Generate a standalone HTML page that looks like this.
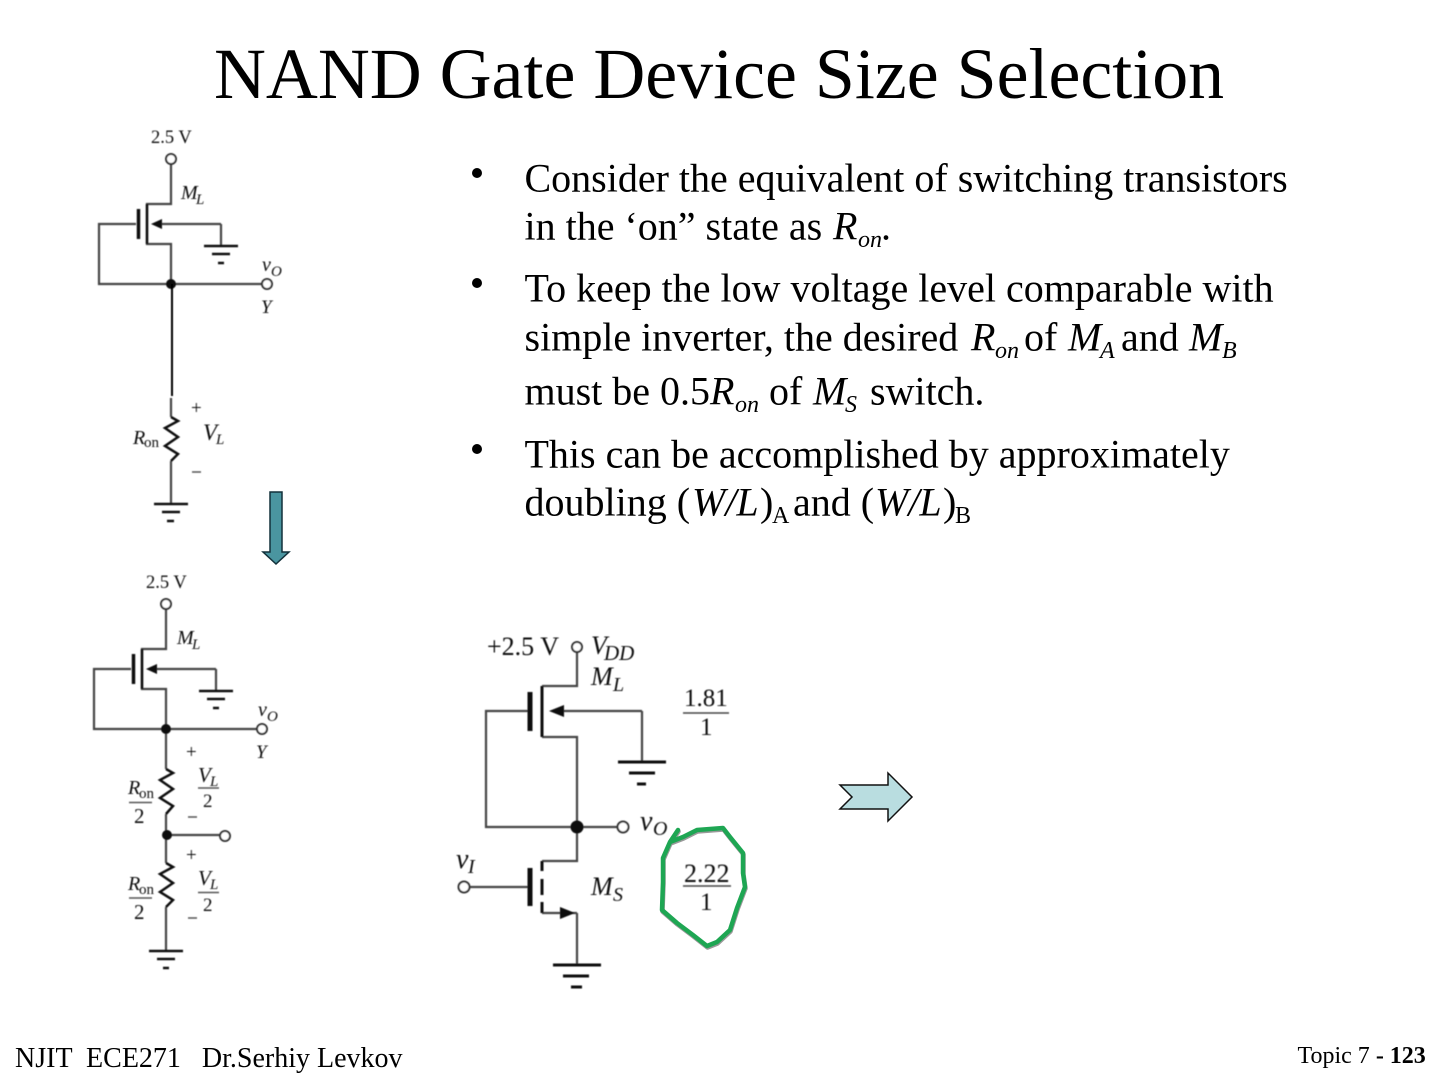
<!DOCTYPE html>
<html><head><meta charset="utf-8"><style>
html,body{margin:0;padding:0;background:#fff}
svg{display:block}
text{font-family:"Liberation Serif",serif;white-space:pre}
.b{font-size:40px;fill:#000}
.s{font-size:24px;fill:#000}
.i{font-style:italic}
.c text{fill:#111}
.w{stroke:#444;stroke-width:2.2;fill:none}
.k{stroke:#111;fill:none}
.o{stroke:#333;stroke-width:2;fill:#fff}
</style></head><body>
<svg xmlns="http://www.w3.org/2000/svg" width="1440" height="1080" viewBox="0 0 1440 1080">
<defs><filter id="bl" x="-5%" y="-5%" width="110%" height="110%"><feGaussianBlur stdDeviation="0.45"/></filter></defs>
<rect width="1440" height="1080" fill="#fff"/>
<text x="214" y="98" font-size="71.9" fill="#000">NAND Gate Device Size Selection</text>

<circle cx="477" cy="173" r="5" fill="#000"/>
<circle cx="477" cy="283" r="5" fill="#000"/>
<circle cx="477" cy="449" r="5" fill="#000"/>

<text class="b" x="524.500" y="191.500">Consider the equivalent of switching transistors</text>
<text class="b" x="524.500" y="239.500">in the ‘on” state as</text><text class="b i" x="833" y="239.500">R</text><text class="s i" x="858" y="247">on</text><text class="b" x="881" y="239.500">.</text>
<text class="b" x="524.500" y="301.500">To keep the low voltage level comparable with</text>
<text class="b" x="524.500" y="350.500">simple inverter, the desired</text><text class="b i" x="971" y="350.500">R</text><text class="s i" x="995" y="358">on</text><text class="b" x="1024" y="350.500">of</text><text class="b i" x="1068" y="350.500">M</text><text class="s i" x="1100" y="358">A</text><text class="b" x="1121" y="350.500">and</text><text class="b i" x="1189" y="350.500">M</text><text class="s i" x="1222" y="358">B</text>
<text class="b" x="524.500" y="404.500">must be 0.5</text><text class="b i" x="710" y="404.500">R</text><text class="s i" x="735" y="412">on</text><text class="b" x="769" y="404.500">of</text><text class="b i" x="813" y="404.500">M</text><text class="s i" x="845" y="412">S</text><text class="b" x="870" y="404.500">switch.</text>
<text class="b" x="524.500" y="467.500">This can be accomplished by approximately</text>
<text class="b" x="524.500" y="515.500">doubling (</text><text class="b i" x="692" y="515.500">W/L</text><text class="b" x="760" y="515.500">)</text><text class="s" x="772" y="523">A</text><text class="b" x="793" y="515.500">and (</text><text class="b i" x="875" y="515.500">W/L</text><text class="b" x="943" y="515.500">)</text><text class="s" x="955" y="523">B</text>

<text x="15" y="1067" font-size="28" fill="#000">NJIT  ECE271   Dr.Serhiy Levkov</text>
<text x="1297.500" y="1063" font-size="24" fill="#000">Topic 7 <tspan font-weight="bold">- 123</tspan></text>

<!-- Circuit 1 -->
<g class="c" filter="url(#bl)">
<text x="151" y="143" font-size="18.500">2.5 V</text>
<path class="w" d="M171 164V204H147V244H171V284M136 224H99V284H262M221 224H160M221 224V246"/>
<path class="k" stroke-width="2.500" d="M147 204V244"/>
<path class="k" stroke-width="3.500" d="M138.500 209V239"/>
<path d="M151 224L162 219V229Z" fill="#111"/>
<path class="k" stroke-width="2.500" d="M204 246H238M212 254H230M218 263H224"/>
<circle class="o" cx="171" cy="159" r="5"/>
<circle class="o" cx="267" cy="284" r="5"/>
<circle cx="171" cy="284" r="5" fill="#111"/>
<text x="181" y="199" font-size="20" class="i">M</text><text x="196" y="204" font-size="15" class="i">L</text>
<text x="262" y="271" font-size="20" class="i">v</text><text x="271" y="276" font-size="15" class="i">O</text>
<text x="261" y="313" font-size="19" class="i">Y</text>
<path d="M172 284V396" stroke="#000" stroke-width="2"/>
<path class="w" d="M171 398V417M171 461V504"/>
<path class="k" stroke-width="2.500" d="M171 417L178 421L165 428L178 437L165 446L178 454L171 461"/>
<path class="k" stroke-width="2.500" d="M154 504H188M162 512H180M167 521H174"/>
<text x="191" y="414" font-size="19">+</text>
<text x="203" y="440" font-size="23" class="i">V</text><text x="216" y="444" font-size="15" class="i">L</text>
<text x="133" y="444" font-size="20" class="i">R</text><text x="144" y="447" font-size="15">on</text>
<path d="M192 472H201" stroke="#555" stroke-width="1.500"/>
</g>

<!-- Down arrow -->
<path d="M270 492H282V552H289L276 564L263 552H270Z" fill="#4a95a0" stroke="#12303a" stroke-width="1.500"/>

<!-- Circuit 2 -->
<g class="c" filter="url(#bl)">
<text x="146" y="588" font-size="18.500">2.5 V</text>
<path class="w" d="M166 609V649H142V689H166V729M131 669H94V729H257M216 669H155M216 669V691M166 729V769M166 814V835H220M166 835V863M166 907V951"/>
<path class="k" stroke-width="2.500" d="M142 649V689"/>
<path class="k" stroke-width="3.500" d="M133.500 654V684"/>
<path d="M146 669L157 664V674Z" fill="#111"/>
<path class="k" stroke-width="2.500" d="M199 691H233M207 699H225M213 708H219"/>
<circle class="o" cx="166" cy="604" r="5"/>
<circle class="o" cx="262" cy="729" r="5"/>
<circle cx="166" cy="729" r="5" fill="#111"/>
<circle cx="167" cy="835" r="5" fill="#111"/>
<circle class="o" cx="225" cy="836" r="5"/>
<text x="177" y="644" font-size="20" class="i">M</text><text x="192" y="649" font-size="15" class="i">L</text>
<text x="258" y="716" font-size="20" class="i">v</text><text x="267" y="721" font-size="15" class="i">O</text>
<text x="256" y="758" font-size="19" class="i">Y</text>
<path class="k" stroke-width="2.500" d="M166 769L173 773L160 780L173 789L160 798L173 806L166 814"/>
<path class="k" stroke-width="2.500" d="M166 863L173 867L160 874L173 883L160 892L173 900L166 907"/>
<path class="k" stroke-width="2.500" d="M149 951H183M157 959H175M163 968H169"/>
<text x="186" y="758" font-size="19">+</text>
<text x="186" y="861" font-size="19">+</text>
<path d="M188 817H197M188 918H197" stroke="#555" stroke-width="1.500"/>
<text x="128" y="794" font-size="20" class="i">R</text><text x="139" y="798" font-size="15">on</text>
<path d="M129 802.500H152" stroke="#555" stroke-width="1.500"/>
<text x="134" y="823" font-size="21">2</text>
<text x="128" y="890" font-size="20" class="i">R</text><text x="139" y="894" font-size="15">on</text>
<path d="M129 898H152" stroke="#555" stroke-width="1.500"/>
<text x="134" y="919" font-size="21">2</text>
<text x="198" y="782" font-size="21" class="i">V</text><text x="210" y="786" font-size="15" class="i">L</text>
<path d="M198 788H219" stroke="#555" stroke-width="1.500"/>
<text x="203" y="807" font-size="19">2</text>
<text x="198" y="885" font-size="21" class="i">V</text><text x="210" y="889" font-size="15" class="i">L</text>
<path d="M198 892.500H219" stroke="#555" stroke-width="1.500"/>
<text x="203" y="911" font-size="19">2</text>
</g>

<!-- Circuit 3 -->
<g class="c" filter="url(#bl)">
<text x="487" y="655" font-size="26">+2.5 V</text>
<text x="591" y="654" font-size="26" class="i">V</text><text x="604" y="660" font-size="21" class="i">DD</text>
<text x="591" y="685" font-size="26" class="i">M</text><text x="613" y="691" font-size="20" class="i">L</text>
<text x="684" y="706" font-size="25">1.81</text>
<text x="700" y="735" font-size="25">1</text>
<text x="684" y="882" font-size="26">2.22</text>
<text x="700" y="910" font-size="25">1</text>
<path d="M683 713H729M683 886H731" stroke="#444" stroke-width="1.500"/>
<text x="640" y="830" font-size="28" class="i">v</text><text x="653" y="835" font-size="20" class="i">O</text>
<text x="456" y="868" font-size="28" class="i">v</text><text x="468" y="873" font-size="20" class="i">I</text>
<text x="591" y="895" font-size="26" class="i">M</text><text x="613" y="901" font-size="20" class="i">S</text>

<path class="w" stroke-width="2.500" d="M577 652V686H542M542 737H577V827M528 711H486V827H618M642 711H560M642 711V762M577 827V861H542M470 887H528M542 913H562M577 913V965M560 913H577"/>
<path class="k" stroke-width="3" d="M542 686V737M542 861V871M542 879V895M542 902V913"/>
<path class="k" stroke-width="5" d="M530 692V731M530 868V906"/>
<path d="M549 711L564 705V717Z" fill="#111"/>
<path d="M575 913L560 907V919Z" fill="#111"/>
<path class="k" stroke-width="3" d="M618 762H666M629 773H655M637 784H646M553 965H601M563 976H589M571 987H582"/>
<circle class="o" cx="577" cy="647" r="5"/>
<circle class="o" cx="623" cy="827" r="5.500"/>
<circle class="o" cx="464" cy="887" r="5.500"/>
<circle cx="577" cy="827" r="6.500" fill="#111"/>
</g>

<!-- Green loop -->
<path d="M678 830L670 842L683 837L697 830L723 828L730 837L743 853L743 873L745 887L737 908L730 930L717 942L707 946L693 935L677 923L662 910L663 882L663 858L670 842" fill="none" stroke="#999" stroke-width="4.500" stroke-linejoin="round" stroke-linecap="round" transform="translate(0.500,1.500)"/>
<path d="M678 830L670 842L683 837L697 830L723 828L730 837L743 853L743 873L745 887L737 908L730 930L717 942L707 946L693 935L677 923L662 910L663 882L663 858L670 842" fill="none" stroke="#1ea653" stroke-width="4.500" stroke-linejoin="round" stroke-linecap="round"/>

<!-- Right arrow -->
<path d="M840 785H888V773L912 797L888 821V809H840L852 797Z" fill="#b9dde0" stroke="#111" stroke-width="1.500"/>
</svg>
</body></html>
